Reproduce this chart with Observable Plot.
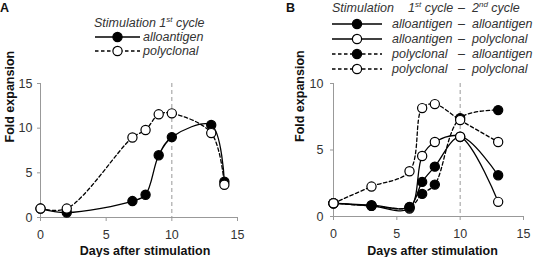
<!DOCTYPE html>
<html><head><meta charset="utf-8">
<script src="https://cdn.jsdelivr.net/npm/d3@7"></script>
<script src="https://cdn.jsdelivr.net/npm/@observablehq/plot@0.6"></script>
<style>
body{margin:0;background:#fff;font-family:"Liberation Sans",Arial,sans-serif;color:#333}
#wrap{position:relative;width:538px;height:257px;overflow:hidden}
.panel{position:absolute;top:0}
.t{position:absolute;white-space:nowrap;font-style:italic;font-size:12.5px;line-height:14px;color:#333}
.lbl{position:absolute;font-weight:bold;font-size:12.5px;color:#111}
sup{font-size:8px;vertical-align:5px;line-height:0}
svg.sym{position:absolute;overflow:visible}
</style></head><body>
<div id="wrap"></div>
<script>
// ---- data: panel A ----
const daysA = [0, 2, 7, 8, 9, 10, 13, 14];
const alloA = [1, 0.56, 1.84, 2.55, 6.97, 9.0, 10.35, 4.0];
const polyA = [1, 1.0, 8.96, 9.8, 11.55, 11.66, 9.45, 3.67];
// ---- data: panel B ----
const daysB = [0, 3, 6, 7, 8, 10, 13];
const alloAllo = [1, 0.85, 0.72, 2.6, 3.75, 6.0, 3.1];
const alloPoly = [1, 0.8, 0.6, 4.55, 5.6, 6.0, 1.1];
const polyAllo = [1, 0.8, 0.68, 1.7, 2.4, 7.4, 8.0];
const polyPoly = [1, 2.25, 3.4, 8.15, 8.45, 7.25, 5.6];
const ticksX = [0, 5, 10, 15];
const ticksYA = [0, 5, 10, 15];
const ticksYB = [0, 5, 10];
const xTitle = "Days after stimulation";
const yTitle = "Fold expansion";
const cutDay = 10;

const seriesA = [
  {name: "alloantigen", y: alloA, filled: true, dashed: false},
  {name: "polyclonal", y: polyA, filled: false, dashed: true}
];
const seriesB = [
  {c1: "alloantigen", c2: "alloantigen", y: alloAllo, filled: true, dashed: false},
  {c1: "alloantigen", c2: "polyclonal", y: alloPoly, filled: false, dashed: false},
  {c1: "polyclonal", c2: "alloantigen", y: polyAllo, filled: true, dashed: true},
  {c1: "polyclonal", c2: "polyclonal", y: polyPoly, filled: false, dashed: true}
];

const font = '"Liberation Sans", Arial, sans-serif';

function panel(days, series, yMax, yTicks, m) {
  const marks = [
    Plot.ruleX([cutDay], {stroke: "#999", strokeDasharray: "4,3", strokeWidth: 1}),
    Plot.ruleY([0], {stroke: "#999"}),
    Plot.ruleX([0], {stroke: "#999"}),
    Plot.axisX({ticks: ticksX, tickSize: 4, tickPadding: 9, stroke: "#999", fill: "#333", fontSize: 12.5, label: null}),
    Plot.axisY({ticks: yTicks, tickSize: 3, tickPadding: m.yp, stroke: "#999", fill: "#333", fontSize: 12.5, label: null}),
    Plot.text([xTitle], {frameAnchor: "bottom", dy: m.xt, dx: m.xdx, fontWeight: "bold", fontSize: 12.5, fill: "#111"}),
    Plot.text([yTitle], {frameAnchor: "left", rotate: -90, dx: m.yt, dy: -8, fontWeight: "bold", fontSize: 12.5, fill: "#111"})
  ];
  for (const s of series) {
    const data = days.map((d, i) => ({d, v: s.y[i]}));
    marks.push(Plot.line(data, {x: "d", y: "v", curve: "catmull-rom", stroke: "black", strokeWidth: 1.3,
      strokeDasharray: s.dashed ? "3.5,2.5" : null}));
  }
  for (const s of series) {
    const data = days.map((d, i) => ({d, v: s.y[i]}));
    marks.push(Plot.dot(data, {x: "d", y: "v", r: 4.6, fill: s.filled ? "black" : "white", stroke: "black", strokeWidth: 1.2}));
  }
  return Plot.plot({
    width: 269, height: 257,
    marginLeft: m.l, marginRight: m.r, marginTop: m.t, marginBottom: m.b,
    x: {domain: [0, 15], axis: null},
    y: {domain: [0, yMax], axis: null},
    style: {fontFamily: font, background: "transparent", overflow: "visible"},
    marks
  });
}

const wrap = document.getElementById("wrap");
const pA = panel(daysA, seriesA, 15, ticksYA, {l: 40, r: 32, t: 83, b: 40, yt: -31, yp: 5, xt: 37, xdx: 6});
pA.classList.add("panel"); pA.style.left = "0px";
wrap.appendChild(pA);
const pB = panel(daysB, seriesB, 10, ticksYB, {l: 64, r: 15, t: 83, b: 41, yt: -34, yp: 7, xt: 38, xdx: 4});
pB.classList.add("panel"); pB.style.left = "269px";
wrap.appendChild(pB);

function addText(html, x, yc, cls = "t") {
  const d = document.createElement("div");
  d.className = cls; d.innerHTML = html;
  d.style.left = x + "px"; d.style.top = (yc - 7) + "px";
  wrap.appendChild(d);
}
function addSym(x0, x1, yc, filled, dashed) {
  const ns = "http://www.w3.org/2000/svg";
  const svg = document.createElementNS(ns, "svg");
  svg.setAttribute("class", "sym");
  svg.setAttribute("width", x1 - x0); svg.setAttribute("height", 12);
  svg.style.left = x0 + "px"; svg.style.top = (yc - 6) + "px";
  const w = x1 - x0;
  svg.innerHTML = `<line x1="0" x2="${w}" y1="6" y2="6" stroke="black" stroke-width="1.3" ${dashed ? 'stroke-dasharray="3.5,2.5"' : ""}/>` +
    `<circle cx="${w / 2}" cy="6" r="4.6" fill="${filled ? "black" : "white"}" stroke="black" stroke-width="1.2"/>`;
  wrap.appendChild(svg);
}

// panel letters
addText("A", 0, 8, "lbl");
addText("B", 286, 8, "lbl");

// legend A
addText("Stimulation 1<sup>st</sup> cycle", 94, 23);
seriesA.forEach((s, i) => {
  const yc = 37 + i * 14;
  addSym(95, 140, yc, s.filled, s.dashed);
  addText(s.name, 143, yc);
});

// legend B
addText("Stimulation", 332, 8);
addText("1<sup>st</sup> cycle", 408, 8);
addText("–", 458, 8);
addText("2<sup>nd</sup> cycle", 472, 8);
seriesB.forEach((s, i) => {
  const yc = 23.5 + i * 15;
  addSym(332, 382, yc, s.filled, s.dashed);
  addText(s.c1, 392, yc);
  addText("–", 458, yc);
  addText(s.c2, 472, yc);
});
</script>
</body></html>
